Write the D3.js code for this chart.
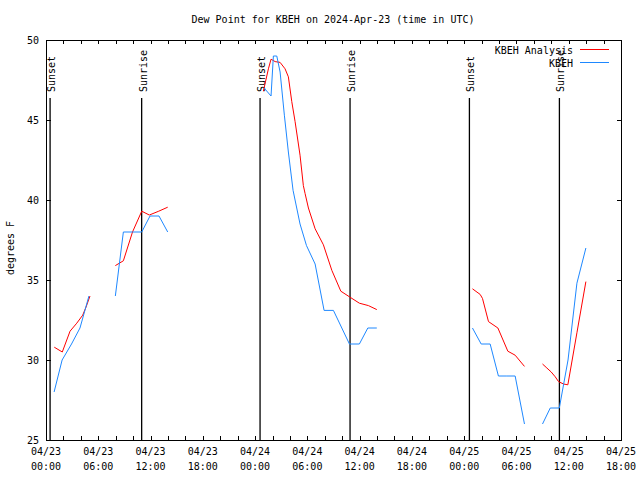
<!DOCTYPE html>
<html><head><meta charset="utf-8">
<script src="https://cdn.jsdelivr.net/npm/d3@7"></script>
<style>
body{margin:0;background:#fff}
text{font-family:"DejaVu Sans Mono","Liberation Mono",monospace;font-size:10px;fill:#000}
</style>
</head><body><svg id="c" width="640" height="480"></svg>
<script>
const title = "Dew Point for KBEH on 2024-Apr-23 (time in UTC)";
const yLabel = "degrees F";
const seriesNames = ["KBEH Analysis", "KBEH"];
const startTime = "2024-04-23T00:00:00Z";
const endTime = "2024-04-25T18:00:00Z";

// hours since start; null value = gap in the line
const analysisHours = [0.95,1.87,2.76,3.53,4.21,4.59,5.05, 6.5,
  7.96,8.88,9.93,10.99,11.86,12.94,13.97, 20,
  24.95,25.53,25.83,26.30,26.87,27.44,27.82,28.21,28.59,29.16,29.54,29.74,30.12,30.89,31.84,32.81,33.84,34.83,35.97,37.01,37.97, 43,
  48.95,49.83,50.10,50.79,51.87,53.01,53.85,54.92, 56,
  56.99,57.49,57.99,58.45,58.83,59.40,59.90,60.94,61.97];
const analysisValues = [30.8,30.5,31.8,32.3,32.8,33.3,34.0, null,
  35.9,36.2,38.0,39.3,39.06,39.3,39.55, null,
  46.8,48.2,48.8,48.65,48.6,48.2,47.7,46.15,44.9,42.8,40.9,40.4,39.5,38.2,37.2,35.6,34.3,33.95,33.55,33.4,33.15, null,
  34.45,34.1,33.85,32.4,32.0,30.55,30.3,29.6, null,
  29.75,29.5,29.25,28.95,28.65,28.5,28.45,31.7,34.9];

const obsHours = [0.93,1.85,2.93,3.9,4.93, 6.5,
  7.96,8.88,9.93,10.99,11.94,12.97,13.97, 20,
  25.03,25.83,26.10,26.49,26.87,27.36,27.82,28.36,29.16,29.90,30.89,31.92,32.99,34.83,35.97,36.94,37.97, 43,
  48.95,49.95,50.98,51.93,52.9,53.85,54.92, 56,
  56.99,57.88,58.92,59.92,60.94,61.97];
const obsValues = [28,30,31,32,34, null,
  34,38,38,38,39,39,38, null,
  47,46.5,49,49,48,45.3,43,40.6,38.5,37.15,36,33.1,33.1,31,31,32,32, null,
  32,31,31,29,29,29,26, null,
  26,27,27,30,34.8,37];

const sunHours = [0.47, 10.98, 24.57, 34.9, 48.6, 58.93];
const sunLabels = ["Sunset", "Sunrise", "Sunset", "Sunrise", "Sunset", "Sunrise"];
const yTicks = [25, 30, 35, 40, 45, 50];
const colors = ["#ff0000", "#1e88ff"];

const t0 = new Date(startTime).getTime();
const toDate = h => new Date(t0 + h * 3600000);

const svg = d3.select("#c");
const L = 46, R = 621, T = 40, B = 440;
const x = d3.scaleUtc().domain([new Date(startTime), new Date(endTime)]).range([L, R]);
const y = d3.scaleLinear().domain([25, 50]).range([B, T]);

const minorTicks = x.ticks(d3.utcHour.every(2));
const majorTicks = x.ticks(d3.utcHour.every(6));

// axes (ticks inward)
const gB = svg.append("g").attr("transform", `translate(0,${B})`)
  .call(d3.axisBottom(x).tickValues(minorTicks).tickSize(-4).tickFormat(""));
const gT = svg.append("g").attr("transform", `translate(0,${T})`)
  .call(d3.axisTop(x).tickValues(minorTicks).tickSize(-4).tickFormat(""));
const gL = svg.append("g").attr("transform", `translate(${L},0)`)
  .call(d3.axisLeft(y).tickValues(yTicks).tickSize(-5).tickPadding(7));
const gR = svg.append("g").attr("transform", `translate(${R},0)`)
  .call(d3.axisRight(y).tickValues(yTicks).tickSize(-4).tickFormat(""));
[gB, gT, gL, gR].forEach(g => {
  g.select(".domain").remove();
  g.selectAll("line").attr("stroke", "#000").attr("shape-rendering", "crispEdges");
});
gL.selectAll("text").attr("font-family", null).attr("font-size", null);
gB.selectAll("text").remove();
gT.selectAll("text").remove();

// two-line x labels
const fmtD = d3.utcFormat("%m/%d"), fmtT = d3.utcFormat("%H:%M");
const xl = svg.append("g").selectAll("g").data(majorTicks).join("g");
xl.append("text").attr("x", d => x(d)).attr("y", 455).attr("text-anchor", "middle").text(fmtD);
xl.append("text").attr("x", d => x(d)).attr("y", 470).attr("text-anchor", "middle").text(fmtT);

// border
svg.append("rect").attr("x", L).attr("y", T).attr("width", R - L).attr("height", B - T)
  .attr("fill", "none").attr("stroke", "#000").attr("shape-rendering", "crispEdges");

// sunrise / sunset
const sg = svg.append("g").selectAll("g").data(sunHours).join("g");
sg.append("line").attr("x1", d => x(toDate(d))).attr("x2", d => x(toDate(d)))
  .attr("y1", 98).attr("y2", B).attr("stroke", "#000").attr("stroke-width", 1.3);
sg.append("text").attr("transform", d => `translate(${x(toDate(d)) + 5},92) rotate(-90)`)
  .attr("text-anchor", "start").text((d, i) => sunLabels[i]);

// lines
const line = d3.line().defined(d => d.v != null).x(d => x(d.t)).y(d => y(d.v));
const aData = analysisHours.map((h, i) => ({t: toDate(h), v: analysisValues[i]}));
const oData = obsHours.map((h, i) => ({t: toDate(h), v: obsValues[i]}));
svg.append("path").datum(aData).attr("d", line).attr("fill", "none").attr("stroke", colors[0]).attr("stroke-width", 1);
svg.append("path").datum(oData).attr("d", line).attr("fill", "none").attr("stroke", colors[1]).attr("stroke-width", 1);

// legend
const leg = svg.append("g");
seriesNames.forEach((n, i) => {
  const yy = 49.5 + i * 13;
  leg.append("text").attr("x", 573).attr("y", yy + 4).attr("text-anchor", "end").text(n);
  leg.append("line").attr("x1", 580).attr("x2", 609).attr("y1", yy).attr("y2", yy)
    .attr("stroke", colors[i]).attr("stroke-width", 1);
});

// title & y label
svg.append("text").attr("x", 333).attr("y", 23).attr("text-anchor", "middle").text(title);
svg.append("text").attr("transform", "translate(14,248) rotate(-90)").attr("text-anchor", "middle").text(yLabel);
</script>
</body></html>
